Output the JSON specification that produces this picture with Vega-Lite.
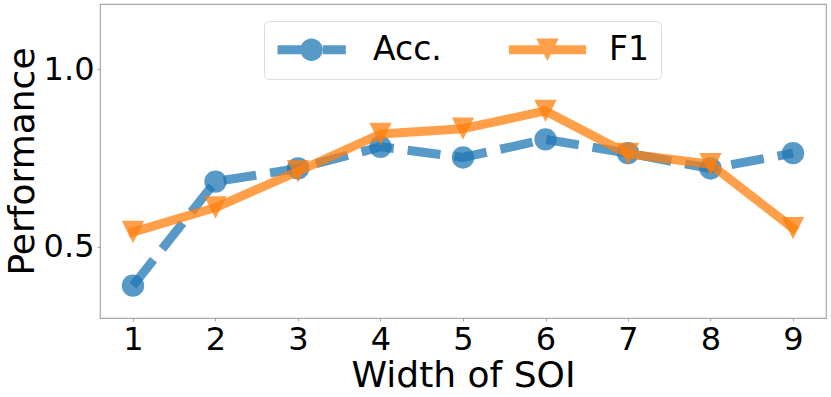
{
  "$schema": "https://vega.github.io/schema/vega-lite/v6.json",
  "width": 726,
  "height": 314,
  "autosize": {"type": "none"},
  "padding": {"left": 100, "top": 4, "right": 5, "bottom": 79},
  "background": "white",
  "config": {
    "font": "DejaVu Sans",
    "view": {"stroke": "#a8a8a8", "strokeWidth": 1.2},
    "axis": {
      "domain": false,
      "grid": false,
      "labelFont": "DejaVu Sans",
      "labelFontSize": 32,
      "labelColor": "black",
      "titleFont": "DejaVu Sans",
      "titleFontSize": 36,
      "titleFontWeight": "normal",
      "titleColor": "black",
      "tickColor": "#a8a8a8",
      "tickSize": 3,
      "labelPadding": 3
    },
    "legend": {
      "orient": "none",
      "direction": "horizontal",
      "legendX": 164,
      "legendY": 17,
      "padding": 12,
      "fillColor": "white",
      "strokeColor": "#dddddd",
      "cornerRadius": 5,
      "symbolSize": 500,
      "symbolOpacity": 0.75,
      "symbolStrokeWidth": 0,
      "symbolOffset": 19,
      "labelOffset": 45,
      "columnPadding": 66,
      "labelFont": "DejaVu Sans",
      "labelFontSize": 33,
      "labelColor": "black"
    }
  },
  "data": {
    "values": [
      {"w": 1, "metric": "Acc.", "value": 0.391},
      {"w": 2, "metric": "Acc.", "value": 0.684},
      {"w": 3, "metric": "Acc.", "value": 0.721},
      {"w": 4, "metric": "Acc.", "value": 0.782},
      {"w": 5, "metric": "Acc.", "value": 0.752},
      {"w": 6, "metric": "Acc.", "value": 0.803},
      {"w": 7, "metric": "Acc.", "value": 0.764},
      {"w": 8, "metric": "Acc.", "value": 0.721},
      {"w": 9, "metric": "Acc.", "value": 0.764},
      {"w": 1, "metric": "F1", "value": 0.542},
      {"w": 2, "metric": "F1", "value": 0.611},
      {"w": 3, "metric": "F1", "value": 0.713},
      {"w": 4, "metric": "F1", "value": 0.818},
      {"w": 5, "metric": "F1", "value": 0.833},
      {"w": 6, "metric": "F1", "value": 0.883},
      {"w": 7, "metric": "F1", "value": 0.762},
      {"w": 8, "metric": "F1", "value": 0.733},
      {"w": 9, "metric": "F1", "value": 0.553}
    ]
  },
  "encoding": {
    "x": {
      "field": "w",
      "type": "quantitative",
      "scale": {"domain": [0.6, 9.4], "nice": false, "zero": false},
      "axis": {
        "title": "Width of SOI",
        "values": [1, 2, 3, 4, 5, 6, 7, 8, 9],
        "format": "d",
        "labelAngle": 0,
        "titleX": 363,
        "titleY": 68,
        "titleBaseline": "alphabetic",
        "titleAnchor": null
      }
    },
    "y": {
      "field": "value",
      "type": "quantitative",
      "scale": {"domain": [0.3, 1.184], "nice": false, "zero": false},
      "axis": {
        "title": "Performance",
        "values": [0.5, 1.0],
        "format": ".1f",
        "titleX": -67,
        "titleY": 157,
        "titleAngle": -90,
        "titleAlign": "center",
        "titleBaseline": "alphabetic",
        "titleAnchor": null
      }
    },
    "color": {
      "field": "metric",
      "type": "nominal",
      "scale": {"domain": ["Acc.", "F1"], "range": ["#1f77b4", "#ff7f0e"]},
      "legend": {"title": null}
    }
  },
  "layer": [
    {
      "transform": [{"filter": "datum.metric === 'Acc.'"}],
      "mark": {"type": "line", "strokeWidth": 9, "strokeDash": [33, 14], "strokeCap": "butt", "strokeJoin": "round", "opacity": 0.75}
    },
    {
      "transform": [{"filter": "datum.metric === 'Acc.'"}],
      "mark": {"type": "point", "shape": "circle", "filled": true, "size": 500, "opacity": 0.75, "strokeWidth": 0}
    },
    {
      "transform": [{"filter": "datum.metric === 'F1'"}],
      "mark": {"type": "line", "strokeWidth": 9, "strokeCap": "square", "strokeJoin": "round", "opacity": 0.75}
    },
    {
      "transform": [{"filter": "datum.metric === 'F1'"}],
      "mark": {"type": "point", "shape": "M-1,-1L1,-1L0,1Z", "filled": true, "size": 500, "opacity": 0.75, "strokeWidth": 0}
    },
    {
      "mark": {"type": "point", "filled": true, "size": 500, "opacity": 0},
      "encoding": {
        "shape": {
          "field": "metric",
          "type": "nominal",
          "scale": {
            "domain": ["Acc.", "F1"],
            "range": [
              "M-3.04,-0.4L-0.15,-0.4L-0.15,0.4L-3.04,0.4Z M1.01,-0.4L3.07,-0.4L3.07,0.4L1.01,0.4Z M1,0A1,1,0,1,1,-1,0A1,1,0,1,1,1,0Z",
              "M-3.45,-0.4L3.45,-0.4L3.45,0.4L-3.45,0.4Z M-1,-1L1,-1L0,1Z"
            ]
          },
          "legend": {"title": null}
        }
      }
    }
  ]
}
